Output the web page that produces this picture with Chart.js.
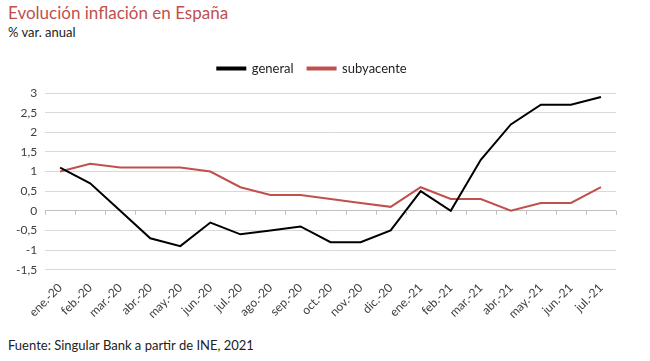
<!DOCTYPE html>
<html>
<head>
<meta charset="utf-8">
<script src="https://cdn.jsdelivr.net/npm/chart.js@4"></script>
<style>
  html, body { margin: 0; padding: 0; background: #fff; }
  body { width: 650px; height: 361px; position: relative; overflow: hidden; font-family: Lato, 'Open Sans', sans-serif; }
  #title { position: absolute; left: 8px; top: 2px; font-size: 17px; color: #C0504D; }
  #subtitle { position: absolute; left: 8px; top: 24px; font-size: 13px; color: #222; }
  #source { position: absolute; left: 8px; top: 337px; font-size: 13px; color: #222; }
  #wrap { position: absolute; left: 0; top: 48px; width: 650px; height: 276px; }
</style>
</head>
<body>
<div id="title">Evolución inflación en España</div>
<div id="subtitle">% var. anual</div>
<div id="wrap"><canvas id="chart"></canvas></div>
<div id="source">Fuente: Singular Bank a partir de INE, 2021</div>
<script>
// ── Data ──
const MONTHS = ['ene.-20','feb.-20','mar.-20','abr.-20','may.-20','jun.-20','jul.-20','ago.-20','sep.-20','oct.-20','nov.-20','dic.-20',
                'ene.-21','feb.-21','mar.-21','abr.-21','may.-21','jun.-21','jul.-21'];
const GENERAL    = [1.1, 0.7, 0.0, -0.7, -0.9, -0.3, -0.6, -0.5, -0.4, -0.8, -0.8, -0.5, 0.5, 0.0, 1.3, 2.2, 2.7, 2.7, 2.9];
const SUBYACENTE = [1.0, 1.2, 1.1, 1.1, 1.1, 1.0, 0.6, 0.4, 0.4, 0.3, 0.2, 0.1, 0.6, 0.3, 0.3, 0.0, 0.2, 0.2, 0.6];

// ── Colours ──
const C_GENERAL = '#000000';
const C_SUB     = '#C0504D';
const C_GRID    = '#D9D9D9';
const C_TICK    = '#404040';

// extra room under the legend
const legendMargin = {
  id: 'legendMargin',
  beforeInit(chart) {
    const fit = chart.legend.fit;
    chart.legend.fit = function () {
      fit.bind(chart.legend)();
      this.height += 8;
    };
  }
};

// small tick marks along the zero line (category boundaries)
const zeroTicks = {
  id: 'zeroTicks',
  afterDatasetsDraw(chart) {
    const { ctx, scales: { x, y } } = chart;
    const y0 = y.getPixelForValue(0);
    ctx.save();
    ctx.strokeStyle = '#BFBFBF';
    ctx.lineWidth = 1;
    for (let i = 0; i <= MONTHS.length; i++) {
      const px = Math.round(x.getPixelForValue(i - 0.5)) + 0.5;
      ctx.beginPath();
      ctx.moveTo(px, y0);
      ctx.lineTo(px, y0 + 4);
      ctx.stroke();
    }
    ctx.restore();
  }
};

new Chart(document.getElementById('chart'), {
  type: 'line',
  data: {
    labels: MONTHS,
    datasets: [
      { label: 'general', data: GENERAL, borderColor: C_GENERAL, backgroundColor: C_GENERAL, borderWidth: 2, pointRadius: 0, tension: 0 },
      { label: 'subyacente', data: SUBYACENTE, borderColor: C_SUB, backgroundColor: C_SUB, borderWidth: 2, pointRadius: 0, tension: 0 }
    ]
  },
  plugins: [legendMargin, zeroTicks],
  options: {
    responsive: true,
    maintainAspectRatio: false,
    animation: false,
    layout: { padding: { left: 8, right: 34, top: 0, bottom: 0 } },
    plugins: {
      legend: {
        position: 'top',
        labels: {
          boxWidth: 28,
          boxHeight: 2,
          padding: 14,
          color: '#222',
          font: { size: 13, family: 'Lato' }
        }
      },
      tooltip: { enabled: false }
    },
    scales: {
      x: {
        offset: true,
        grid: { display: false },
        border: { display: false },
        ticks: {
          color: C_TICK,
          font: { size: 12, family: 'Lato' },
          maxRotation: 45,
          minRotation: 45,
          autoSkip: false
        }
      },
      y: {
        min: -1.5,
        max: 3,
        grid: {
          color: ctx => ctx.tick && ctx.tick.value === 0 ? '#BFBFBF' : C_GRID,
          drawTicks: false
        },
        border: { display: false },
        ticks: {
          stepSize: 0.5,
          padding: 8,
          color: C_TICK,
          font: { size: 12, family: 'Lato' },
          callback: v => String(v).replace('.', ',')
        }
      }
    }
  }
});
</script>
</body>
</html>
